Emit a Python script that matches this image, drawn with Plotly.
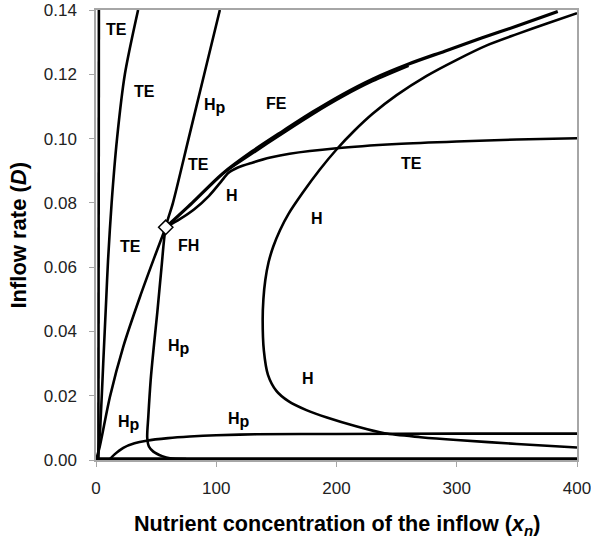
import plotly.graph_objects as go

# ---------------- data ----------------
te_left_x = [2.0, 2.4]
te_left_y = [0.0, 0.14]

te_mid_x = [1.5, 3.5, 6.0, 8.5, 10.0, 13.0, 17.5, 24.0, 35.0]
te_mid_y = [0.0, 0.010, 0.030, 0.050, 0.062, 0.080, 0.100, 0.120, 0.140]

hp_steep_x = [75, 61.5, 55, 47.7, 44.0, 42.6, 43.5, 45.5, 48.0, 51.0, 54.5, 58.0, 64.0, 77.0, 90.0, 103.0]
hp_steep_y = [0.0003, 0.0005, 0.0012, 0.0026, 0.0042, 0.0070, 0.0135, 0.0250, 0.0350, 0.0460, 0.0600, 0.0724, 0.0800, 0.1000, 0.1200, 0.1400]

te_low_x = [0.0, 3.0, 11.6, 22.7, 36.6, 48.0, 58.0]
te_low_y = [0.0, 0.0040, 0.0197, 0.0353, 0.0508, 0.0625, 0.0724]

fe_x = [58.0, 80, 105, 130, 155, 180, 205, 230, 260, 290, 320, 350, 384]
fe_y = [0.0724, 0.0800, 0.0890, 0.0960, 0.1022, 0.1082, 0.1137, 0.1185, 0.1232, 0.1272, 0.1312, 0.1350, 0.1395]

fe_inner_x = [106, 130, 155, 180, 205, 230, 260]
fe_inner_y = [0.0893, 0.0953, 0.1015, 0.1075, 0.1130, 0.1178, 0.1226]

te_upper_x = [58.0, 70, 82, 94, 104, 110, 118, 130, 145, 161, 200, 250, 300, 350, 400]
te_upper_y = [0.0724, 0.0750, 0.0781, 0.0822, 0.0866, 0.0893, 0.0910, 0.0925, 0.0941, 0.0953, 0.0970, 0.0983, 0.0991, 0.0997, 0.1001]

h_loop_x = [400, 350, 300, 270, 240, 217, 192, 175, 160, 150, 143, 139.6, 138.6, 139.2,
            140.8, 143.5, 147.5, 153, 160, 172, 186, 200, 215, 230, 250, 275, 300, 325, 350, 375, 400]
h_loop_y = [0.0039, 0.0050, 0.0062, 0.0071, 0.0083, 0.0104, 0.0132, 0.0155, 0.0183, 0.0215,
            0.0265, 0.0340, 0.0436, 0.0500, 0.0560, 0.0615, 0.0665, 0.0715, 0.0765, 0.0832,
            0.0903, 0.0966, 0.1025, 0.1077, 0.1135, 0.1195, 0.1245, 0.1290, 0.1325, 0.1358, 0.1390]

hp_low_x = [11.6, 15, 22.7, 32, 42, 60, 78, 100, 133, 200, 300, 400]
hp_low_y = [0.0003, 0.0016, 0.0038, 0.0052, 0.0060, 0.0068, 0.0073, 0.0077, 0.0080, 0.0081, 0.0082, 0.0082]

base_x = [0, 400]
base_y = [0.0004, 0.0004]

fh_x = [58.0]
fh_y = [0.0724]

label_text = ["TE", "TE", "Hp", "FE", "TE", "H", "TE", "FH", "TE", "H",
              "Hp", "Hp", "Hp", "H"]
label_x = [17, 40.7, 99, 150, 85, 113, 28.3, 76.8, 262.5, 183.5, 69, 27.5, 119, 176.6]
label_y = [0.1338, 0.1146, 0.1100, 0.1110, 0.0918, 0.0824, 0.0664, 0.0667, 0.0923, 0.0752,
           0.0352, 0.0114, 0.0124, 0.0254]

x_ticks = [0, 100, 200, 300, 400]
y_ticks = [0.00, 0.02, 0.04, 0.06, 0.08, 0.10, 0.12, 0.14]

# ---------------- figure ----------------
FONT = "Arial, Liberation Sans, sans-serif"
fig = go.Figure()

def curve(x, y, w=2.6):
    fig.add_trace(go.Scatter(x=x, y=y, mode="lines",
                             line=dict(color="black", width=w, shape="spline", smoothing=0.8),
                             hoverinfo="skip", showlegend=False))

curve(base_x, base_y, 3)
curve(te_left_x, te_left_y)
curve(te_mid_x, te_mid_y)
curve(hp_steep_x, hp_steep_y)
curve(te_low_x, te_low_y)
curve(te_upper_x, te_upper_y)
curve(h_loop_x, h_loop_y)
curve(hp_low_x, hp_low_y)
curve(fe_inner_x, fe_inner_y, 2.2)
curve(fe_x, fe_y, 3.2)

fig.add_trace(go.Scatter(x=fh_x, y=fh_y, mode="markers",
                         marker=dict(symbol="diamond", size=11, color="white",
                                     line=dict(color="black", width=1.5)),
                         hoverinfo="skip", showlegend=False))


def fmt_label(t):
    if t == "Hp":
        return "<b>H<sub><span style='font-size:16px'>p</span></sub></b>"
    return "<b>" + t + "</b>"


for t, x, y in zip(label_text, label_x, label_y):
    fig.add_annotation(x=x, y=y, text=fmt_label(t), showarrow=False,
                       font=dict(family=FONT, size=16, color="black"),
                       xanchor="center", yanchor="middle")

fig.add_annotation(x=0.5, y=-0.145, xref="paper", yref="paper",
                   text="<b>Nutrient concentration of the inflow (<i>x</i><sub><i>n</i></sub>)</b>",
                   showarrow=False, font=dict(family=FONT, size=21.6, color="black"),
                   xanchor="center", yanchor="middle")
fig.add_annotation(x=-0.163, y=0.5, xref="paper", yref="paper",
                   text="<b>Inflow rate (<i>D</i>)</b>", textangle=-90,
                   showarrow=False, font=dict(family=FONT, size=22, color="black"),
                   xanchor="center", yanchor="middle")

axis_common = dict(showgrid=False, zeroline=False, showline=True, linecolor="#a6a6a6",
                   linewidth=1.5, mirror=True, ticks="outside", ticklen=5,
                   tickcolor="#a6a6a6", tickwidth=1.2, automargin=False,
                   ticklabeloverflow="allow",
                   tickfont=dict(family=FONT, size=17, color="#222"))

fig.update_xaxes(range=[0, 400], tickvals=x_ticks, ticklabelstandoff=7, **axis_common)
fig.update_yaxes(range=[0, 0.14], tickvals=y_ticks, tickformat=".2f",
                 ticklabelstandoff=9, **axis_common)

fig.update_layout(width=591, height=543, margin=dict(l=96, r=14, t=10, b=83),
                  plot_bgcolor="white", paper_bgcolor="white")

fig.write_html("out.html", config={"displayModeBar": False},
               post_script="document.body.style.margin='0';")
